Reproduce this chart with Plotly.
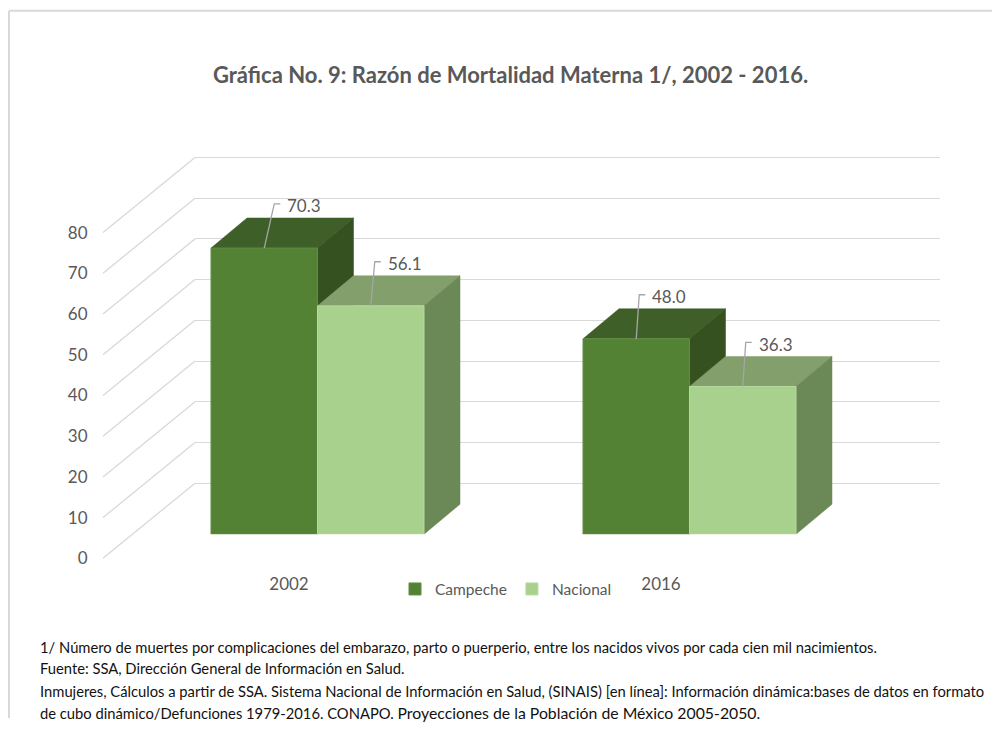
import plotly.graph_objects as go

# ---------------- data ----------------
years = ["2002", "2016"]
series_names = ["Campeche", "Nacional"]
campeche = [70.3, 48.0]
nacional = [56.1, 36.3]
y_ticks = [0, 10, 20, 30, 40, 50, 60, 70, 80]
title_text = "Gráfica No. 9: Razón de Mortalidad Materna 1/, 2002 - 2016."
note_lines = [
    "1/ Número de muertes por complicaciones del embarazo, parto o puerperio, entre los nacidos vivos por cada cien mil nacimientos.",
    "Fuente: SSA, Dirección General de Información en Salud.",
    "Inmujeres, Cálculos a partir de SSA. Sistema Nacional de Información en Salud, (SINAIS) [en línea]: Información dinámica:bases de datos en formato",
]
note_last_a = "de cubo dinámico/Defunciones 1979-2016. CONAPO. "
note_last_b = "Proyecciones de la Población de México 2005-2050."

# ---------------- styling / geometry ----------------
OFF = 8                         # default page body margin of the browser
SY = 0.984                      # observed vertical scale of the photograph
W, H = 1000 - OFF, 736 - 2 * OFF
K = 4.0625                      # px per value unit (vertical, reference px)
FONT = "Lato"
GRAY = "#595959"
GRID = "#d9d9d9"
front_cols = ["#548235", "#A9D18E"]
edge_cols = ["#5f8f40", "#b7d9a0"]
top_cols = ["#3F5F28", "#829F6C"]
side_cols = ["#34511F", "#6B8857"]

BARGAP = 0.4274
BAR_W = (1 - BARGAP) / 2
CAT_PX = 372.0                  # px per category unit
DDX = 36 / CAT_PX               # bar depth, x (category units)
DDY = 30 / K                    # bar depth, y (value units)
LEAD_H = 44 / K                 # leader line height (value units)
LEAD_HX = 6 / CAT_PX            # leader horizontal tick
lead_dx_px = [[10, 4], [3, 3]]  # label leader nudge per year/series


def px_x(p):
    return (p - OFF) / W


def px_y(p):
    return 1 - (p / SY - OFF) / H


def xdom(p0, p1):
    return [px_x(p0), px_x(p1)]


def ydom(zero_px, r):
    return [px_y(zero_px - r[0] * K), px_y(zero_px - r[1] * K)]


# axes definitions (reference pixel positions)
bar_xr, bar_xd = [-0.5, 1.5], xdom(131.5, 875.5)
bar_yr = [0, 100]
bar_yd = ydom(533, bar_yr)
back_xr, back_xd = [0, 1], xdom(195, 940)
back_yr = [-0.5, 81]
back_yd = ydom(482, back_yr)
front_xr, front_xd = [-0.5, 1.5], xdom(103, 847)
front_yr = [0, 100]
front_yd = ydom(557, front_yr)


def to_paper(v, r, d):
    return d[0] + (v - r[0]) / (r[1] - r[0]) * (d[1] - d[0])


fig = go.Figure()
idx = list(range(len(years)))

# dummy traces to realise the back-wall and front-label subplots
fig.add_trace(go.Scatter(x=[None], y=[None], xaxis="x", yaxis="y",
                         showlegend=False, hoverinfo="skip"))
for name, vals, fc, ec in zip(series_names, [campeche, nacional], front_cols, edge_cols):
    fig.add_trace(go.Bar(x=idx, y=vals, name=name, xaxis="x2", yaxis="y2",
                         marker=dict(color=fc, line=dict(color=ec, width=1)),
                         hoverinfo="x+y"))
fig.add_trace(go.Scatter(x=[None], y=[None], xaxis="x3", yaxis="y3",
                         showlegend=False, hoverinfo="skip"))

shapes = []
annotations = []

# border
shapes.append(dict(type="line", xref="paper", yref="paper", layer="below",
                   x0=px_x(9), x1=1, y0=px_y(10.5), y1=px_y(10.5),
                   line=dict(color=GRID, width=2)))
shapes.append(dict(type="line", xref="paper", yref="paper", layer="below",
                   x0=px_x(9), x1=px_x(9), y0=0, y1=px_y(10.5),
                   line=dict(color=GRID, width=2)))

# side-wall diagonal gridlines (front plane -> back wall)
for v in y_ticks:
    shapes.append(dict(type="line", xref="paper", yref="paper", layer="below",
                       x0=front_xd[0], y0=to_paper(v, front_yr, front_yd),
                       x1=back_xd[0], y1=to_paper(v, back_yr, back_yd),
                       line=dict(color=GRID, width=1.3)))

# 3D faces of bars
for i in idx:
    for s, vals in enumerate([campeche, nacional]):
        v = vals[i]
        x0 = i - BAR_W if s == 0 else i
        x1 = x0 + BAR_W
        top = (f"M {x0} {v} L {x1} {v} L {x1 + DDX} {v + DDY} "
               f"L {x0 + DDX} {v + DDY} Z")
        side = (f"M {x1} 0 L {x1} {v} L {x1 + DDX} {v + DDY} "
                f"L {x1 + DDX} {DDY} Z")
        shapes.append(dict(type="path", xref="x2", yref="y2", layer="below",
                           path=top, fillcolor=top_cols[s],
                           line=dict(color=top_cols[s], width=0.5)))
        shapes.append(dict(type="path", xref="x2", yref="y2", layer="below",
                           path=side, fillcolor=side_cols[s],
                           line=dict(color=side_cols[s], width=0.5)))
        # data label with leader line
        xc = (x0 + x1) / 2
        lx = xc + lead_dx_px[i][s] / CAT_PX
        ly = v + LEAD_H
        shapes.append(dict(type="path", xref="x2", yref="y2", layer="above",
                           path=f"M {xc} {v} L {lx} {ly} L {lx + LEAD_HX} {ly}",
                           line=dict(color="#a6a6a6", width=1.3)))
        annotations.append(dict(xref="x2", yref="y2", x=lx + LEAD_HX, y=ly,
                                text=f"{v:.1f}", showarrow=False,
                                xanchor="left", yanchor="middle",
                                xshift=5, yshift=-2,
                                font=dict(family=FONT, size=17, color=GRAY)))

# title
annotations.append(dict(xref="paper", yref="paper", x=px_x(510), y=px_y(74),
                        text=f"<b>{title_text}</b>", showarrow=False,
                        xanchor="center", yanchor="middle",
                        font=dict(family=FONT, size=22, color=GRAY)))

# footnotes
NOTE_FS = 14.75
note_y = [646, 666, 689, 711]
for line, yy in zip(note_lines, note_y[:3]):
    annotations.append(dict(xref="paper", yref="paper", x=px_x(38), y=px_y(yy),
                            text=line, showarrow=False, xanchor="left",
                            yanchor="middle",
                            font=dict(family=FONT, size=NOTE_FS, color="#111111")))
annotations.append(dict(xref="paper", yref="paper", x=px_x(38), y=px_y(note_y[3]),
                        text=note_last_a + f"<span style='font-size:15.8px'>{note_last_b}</span>",
                        showarrow=False, xanchor="left", yanchor="middle",
                        font=dict(family=FONT, size=NOTE_FS, color="#111111")))

axis_off = dict(showgrid=False, zeroline=False, showline=False,
                showticklabels=False, ticks="", fixedrange=True)

fig.update_layout(
    width=W, height=H,
    margin=dict(l=0, r=0, t=0, b=0),
    paper_bgcolor="white", plot_bgcolor="rgba(0,0,0,0)",
    barmode="group", bargap=BARGAP, bargroupgap=0,
    showlegend=True,
    legend=dict(orientation="h", x=px_x(506), xanchor="center",
                y=px_y(588), yanchor="middle",
                font=dict(family=FONT, size=15.5, color=GRAY),
                bgcolor="rgba(0,0,0,0)", itemwidth=30),
    xaxis=dict(domain=back_xd, range=back_xr, anchor="y", **axis_off),
    yaxis=dict(domain=back_yd, range=back_yr, anchor="x",
               showgrid=True, gridcolor=GRID, gridwidth=1.3,
               tickvals=y_ticks, zeroline=False, showline=False,
               showticklabels=False, ticks="", fixedrange=True),
    xaxis2=dict(domain=bar_xd, range=bar_xr, anchor="y2", **axis_off),
    yaxis2=dict(domain=bar_yd, range=bar_yr, anchor="x2", **axis_off),
    xaxis3=dict(domain=front_xd, range=front_xr, anchor="y3",
                tickvals=idx, ticktext=years, ticks="outside", ticklen=10,
                tickcolor="rgba(0,0,0,0)", showgrid=False, zeroline=False,
                showline=False, fixedrange=True,
                tickfont=dict(family=FONT, size=17, color=GRAY)),
    yaxis3=dict(domain=front_yd, range=front_yr, anchor="x3",
                tickvals=y_ticks, ticks="outside", ticklen=11,
                tickcolor="rgba(0,0,0,0)", showgrid=False, zeroline=False,
                showline=False, fixedrange=True,
                tickfont=dict(family=FONT, size=17, color=GRAY)),
    shapes=shapes,
    annotations=annotations,
)

fig.write_html("out.html")
